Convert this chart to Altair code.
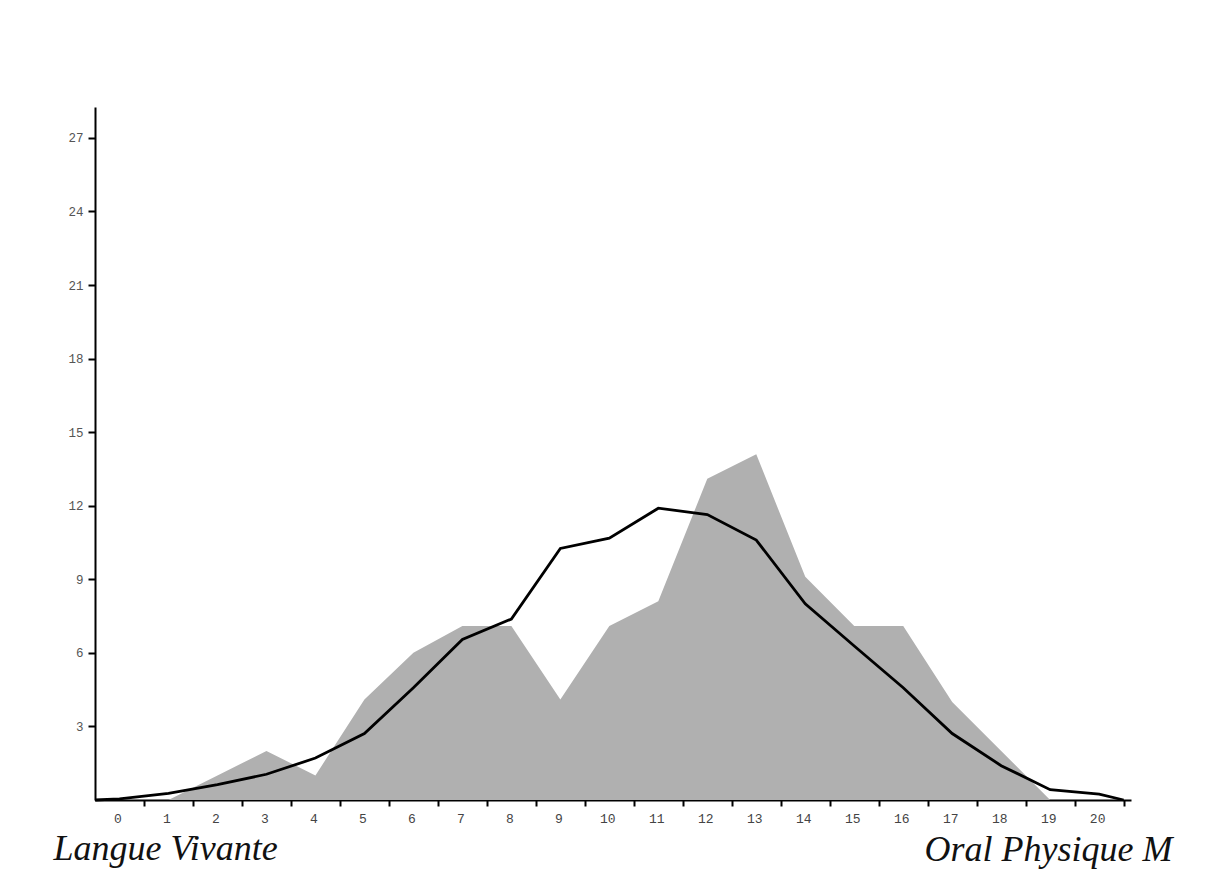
import altair as alt
import pandas as pd

# Histogram (shaded area), percent of students per mark
area_notes = list(range(0, 20))
area_pct = [0, 0, 1.0, 2.0, 1.0, 4.1, 6.0, 7.1, 7.1, 4.1, 7.1, 8.1, 13.1, 14.1, 9.1, 7.1, 7.1, 4.0, 2.0, 0]

# Reference curve (black line)
line_notes = [-0.5, 0, 1, 2, 3, 4, 5, 6, 7, 8, 9, 10, 11, 12, 13, 14, 15, 16, 17, 18, 19, 20, 20.5]
line_pct = [0, 0.05, 0.27, 0.63, 1.05, 1.71, 2.71, 4.58, 6.55, 7.38, 10.26, 10.68, 11.9, 11.64,
            10.6, 8.0, 6.28, 4.58, 2.71, 1.4, 0.42, 0.24, 0]

x_labels = list(range(0, 21))
y_ticks = [3, 6, 9, 12, 15, 18, 21, 24, 27]

df_area = pd.DataFrame({"note": area_notes, "pct": area_pct})
df_line = pd.DataFrame({"note": line_notes, "pct": line_pct})

W = 1036
H = 693
XDOM = [-0.5, 20.65]
YDOM = [0, 28.26]
half = W / (XDOM[1] - XDOM[0]) / 2

xscale = alt.Scale(domain=XDOM, nice=False, zero=False)
yscale = alt.Scale(domain=YDOM, nice=False, zero=True)

xaxis = alt.Axis(
    values=x_labels, grid=False, tickOffset=half, labelOffset=-half - 2,
    tickSize=6, tickWidth=2, tickColor="black",
    domainColor="black", domainWidth=2,
    labelFont="Liberation Mono", labelFontSize=13, labelColor="#444", labelPadding=6,
    title="Oral Physique M", titleFont="Liberation Serif", titleFontStyle="italic",
    titleFontWeight="normal", titleFontSize=36, titleColor="#111",
    titleAlign="right", titleBaseline="alphabetic", titleAnchor="start",
    titleX=1077, titleY=60,
)
yaxis = alt.Axis(
    values=y_ticks, grid=False,
    tickSize=7, tickWidth=2, tickColor="black",
    domainColor="black", domainWidth=2,
    labelFont="Liberation Mono", labelFontSize=12.5, labelColor="#555", labelPadding=5,
    title="Langue Vivante", titleFont="Liberation Serif", titleFontStyle="italic",
    titleFontWeight="normal", titleFontSize=36, titleColor="#111",
    titleAngle=0, titleAlign="left", titleBaseline="alphabetic", titleAnchor="start",
    titleX=-42, titleY=752,
)

area = alt.Chart(df_area).mark_area(color="#b0b0b0", interpolate="linear").encode(
    x=alt.X("note:Q", scale=xscale, axis=xaxis),
    y=alt.Y("pct:Q", scale=yscale, axis=yaxis),
)
line = alt.Chart(df_line).mark_line(color="black", strokeWidth=2.8).encode(
    x=alt.X("note:Q", scale=xscale),
    y=alt.Y("pct:Q", scale=yscale),
)

chart = alt.layer(area, line).properties(
    width=W, height=H, autosize="none",
    padding={"left": 87, "top": 99, "right": 60, "bottom": 74},
    background="white",
).configure_view(stroke=None)

chart.save("out.html", embed_options={"renderer": "svg", "actions": False})
